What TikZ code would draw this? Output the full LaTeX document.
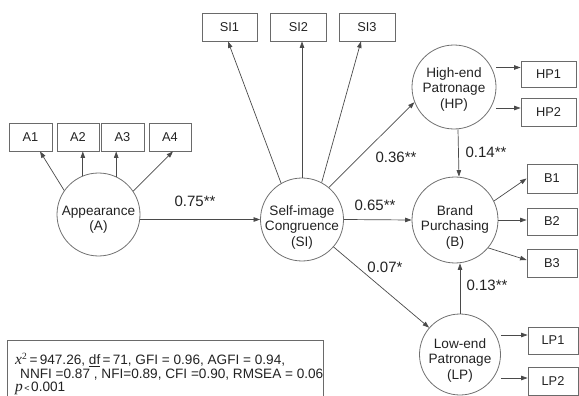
\documentclass[tikz,border=0pt]{standalone}
\usepackage{fontspec}
\setmainfont{Liberation Sans}
\newfontfamily\serifit{Liberation Serif}
\usetikzlibrary{arrows.meta,calc}
\definecolor{linec}{HTML}{4A4A4A}
\definecolor{circc}{HTML}{707070}
\definecolor{boxc}{HTML}{6A6A6A}
\definecolor{txtc}{HTML}{222222}
\begin{document}
\begin{tikzpicture}[x=1pt,y=-1pt,
  lat/.style={circle,draw=circc,line width=0.8pt,minimum size=#1,inner sep=0pt},
  lattext/.style={align=center,font=\fontsize{13.6}{15.5}\selectfont,text=txtc,inner sep=0pt},
  obs/.style={draw=boxc,line width=0.8pt,minimum width=#1,minimum height=28,inner sep=0pt,
    font=\fontsize{12.8}{14}\selectfont,text=txtc},
  coef/.style={font=\fontsize{15}{16}\selectfont,text=txtc,inner sep=0pt},
  stattext/.style={font=\fontsize{13.6}{13.5}\selectfont,text=txtc,inner sep=0pt,anchor=base west},
  arr/.style={-{Triangle[length=6.5pt,width=4.5pt]},draw=linec,line width=0.7pt}]
\useasboundingbox (0,0) rectangle (579,396);

% latent variables
\node[lat=83] (A) at (98.5,214.5) {};
\node[lattext] (At) at (98.5,219.5) {Appearance\\(A)};
\node[lat=83] (SI) at (302,219.5) {};
\node[lattext] (SIt) at (302,227) {Self-image\\Congruence\\(SI)};
\node[lat=84] (HP) at (454,87) {};
\node[lattext] (HPt) at (454,89) {High-end\\Patronage\\(HP)};
\node[lat=86] (B) at (455,220) {};
\node[lattext] (Bt) at (455,227) {Brand\\Purchasing\\(B)};
\node[lat=81] (LP) at (460,354.5) {};
\node[lattext] (LPt) at (460,360) {Low-end\\Patronage\\(LP)};

% observed indicators
\node[obs=43] (A1) at (30.5,137) {A1};
\node[obs=42] (A2) at (78,137) {A2};
\node[obs=43] (A3) at (122.5,137) {A3};
\node[obs=42] (A4) at (170,137) {A4};
\node[obs=55] (SI1) at (229.5,27) {SI1};
\node[obs=56] (SI2) at (298.5,27) {SI2};
\node[obs=56] (SI3) at (367,27) {SI3};
\node[obs=55,minimum height=26] (HP1) at (548.5,74) {HP1};
\node[obs=55] (HP2) at (548.5,112) {HP2};
\node[obs=50,minimum height=29] (B1) at (552,178.5) {B1};
\node[obs=50,minimum height=27] (B2) at (552,221.5) {B2};
\node[obs=50] (B3) at (552,263) {B3};
\node[obs=50,minimum height=27] (LP1) at (553,340.5) {LP1};
\node[obs=50] (LP2) at (553,381) {LP2};

% measurement arrows
\draw[arr] (A.145) -- ([xshift=9.5]A1.south);
\draw[arr] (A.112) -- (A.112 |- A2.south);
\draw[arr] (A.65) -- (A.65 |- A3.south);
\draw[arr] (A.34) -- ([xshift=3]A4.south);
\draw[arr] (SI.120) -- ([xshift=-1.5]SI1.south);
\draw[arr] (SI.north) -- (SI.north |- SI2.south);
\draw[arr] (SI.62) -- ([xshift=-6]SI3.south);
\coordinate (hp1s) at ([yshift=19.5]HP.east);
\coordinate (hp2s) at ([yshift=-21]HP.east);
\draw[arr] (hp1s) -- (hp1s -| HP1.west);
\draw[arr] (hp2s) -- (hp2s -| HP2.west);
\draw[arr] (B.26) -- (B1.west);
\draw[arr] (B.east) -- (B.east -| B2.west);
\draw[arr] (B.-40) -- ([yshift=3]B3.west);
\coordinate (lp1s) at ([yshift=19.5]LP.east);
\coordinate (lp2s) at ([yshift=-23.5]LP.east);
\draw[arr] (lp1s) -- (lp1s -| LP1.west);
\draw[arr] (lp2s) -- (lp2s -| LP2.west);

% structural arrows
\draw[arr] (A.east |- SI.west) -- (SI.west);
\draw[arr] (SI.50) -- (HP.201);
\draw[arr] (SI.east) -- (B.west);
\draw[arr] (SI.-41) -- (LP.139);
\draw[arr] ([xshift=4]HP.south) -- ([xshift=4]B.north);
\draw[arr] (LP.north) -- (LP.north |- B.south);

% coefficients
\node[coef] (c1) at (195,201) {0.75**};
\node[coef] (c2) at (396,157) {0.36**};
\node[coef] (c3) at (486,152) {0.14**};
\node[coef] (c4) at (375,205) {0.65**};
\node[coef] (c5) at (385,267) {0.07*};
\node[coef] (c6) at (487,285) {0.13**};

% fit statistics
\node[draw=boxc,line width=1pt,anchor=north west,minimum width=316,minimum height=62,inner sep=0pt] (stats) at (7,340) {};
\node[stattext] (s1) at (15,364.5) {{\fontsize{15.5}{15}\selectfont\serifit\itshape x}\textsuperscript{\serifit 2}\,=\,947.26, \underline{df}\,=\,71, GFI = 0.96, AGFI = 0.94,};
\node[stattext] (s2) at (20,378) {NNFI =0.87 , NFI=0.89, CFI =0.90, RMSEA = 0.06};
\node[stattext] (s3) at (15,391.5) {{\fontsize{15.5}{15}\selectfont\serifit\itshape p}{\fontsize{9}{9}\selectfont\,<\,}0.001};
\end{tikzpicture}
\end{document}
